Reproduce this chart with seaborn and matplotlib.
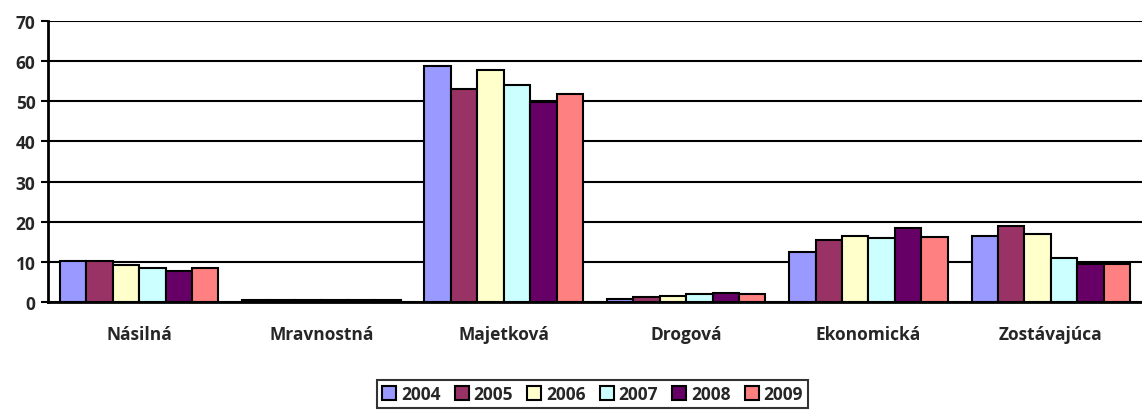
import pandas as pd
import matplotlib
matplotlib.use('Agg')
import matplotlib.pyplot as plt
import seaborn as sns

categories = ['Násilná', 'Mravnostná', 'Majetková', 'Drogová', 'Ekonomická', 'Zostávajúca']
years = ['2004', '2005', '2006', '2007', '2008', '2009']

v2004 = [10.3, 0.5, 58.9, 0.8, 12.4, 16.5]
v2005 = [10.3, 0.6, 53.0, 1.2, 15.5, 18.9]
v2006 = [9.3, 0.6, 57.8, 1.6, 16.5, 16.9]
v2007 = [8.6, 0.6, 54.1, 1.9, 15.9, 11.0]
v2008 = [7.8, 0.6, 49.9, 2.2, 18.5, 9.4]
v2009 = [8.5, 0.6, 51.8, 1.9, 16.1, 9.4]

colors = ['#9999FF', '#993366', '#FFFFCC', '#CCFFFF', '#660066', '#FF8080']

FONT = ['Open Sans', 'DejaVu Sans']
FSIZE = 12.5


def build_df():
    rows = []
    for year, vals in zip(years, [v2004, v2005, v2006, v2007, v2008, v2009]):
        for cat, v in zip(categories, vals):
            rows.append({'kategoria': cat, 'rok': year, 'hodnota': v})
    return pd.DataFrame(rows)


def main():
    df = build_df()
    sns.set_style('white')
    plt.rcParams['font.family'] = FONT
    plt.rcParams['font.weight'] = 'bold'

    fig = plt.figure(figsize=(11.42, 4.14), dpi=100)
    ax = fig.add_axes([0.042, 0.268, 0.958, 0.679])

    sns.barplot(data=df, x='kategoria', y='hodnota', hue='rok', order=categories,
                hue_order=years, palette=colors, saturation=1, width=0.87,
                edgecolor='black', linewidth=1.5, ax=ax, legend=True)

    ax.set_ylim(0, 70)
    ax.set_xlim(-0.5, 5.5)
    ax.set_yticks(range(0, 71, 10))
    ax.yaxis.grid(True, color='black', linewidth=1.5)
    ax.set_axisbelow(True)
    ax.set_xlabel('')
    ax.set_ylabel('')

    for side in ['top', 'right']:
        ax.spines[side].set_visible(False)
    ax.spines['left'].set_color('black')
    ax.spines['left'].set_linewidth(2)
    ax.spines['bottom'].set_color('black')
    ax.spines['bottom'].set_linewidth(2)

    ax.tick_params(axis='y', left=True, length=5, width=1.5, color='black', pad=4)
    ax.tick_params(axis='x', bottom=False, pad=13)
    for lbl in ax.get_xticklabels() + ax.get_yticklabels():
        lbl.set_fontweight('bold')
        lbl.set_fontsize(FSIZE)
        lbl.set_family(FONT)

    ax.legend_.remove()
    handles, labels = ax.get_legend_handles_labels()
    leg = fig.legend(handles, labels, loc='center', bbox_to_anchor=(0.519, 0.046),
                     ncol=6, frameon=True, fancybox=False, edgecolor='black',
                     handlelength=0.8, handleheight=0.8, handletextpad=0.3,
                     columnspacing=0.8, borderpad=0.3,
                     prop={'weight': 'bold', 'size': FSIZE, 'family': FONT})
    leg.get_frame().set_linewidth(1.5)

    fig.savefig('out.png', dpi=100)


if __name__ == '__main__':
    main()
